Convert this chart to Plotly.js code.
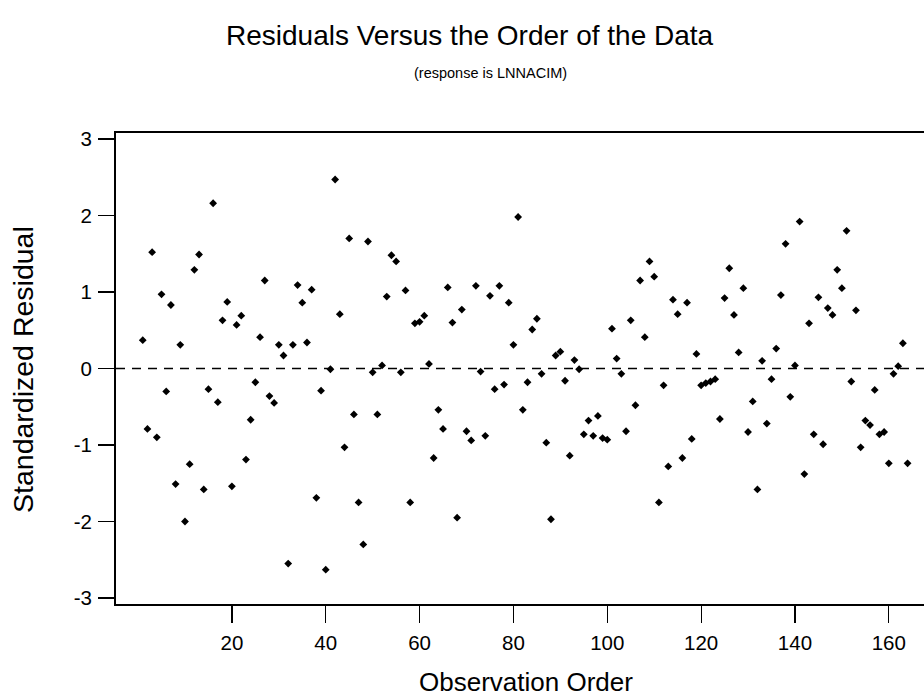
<!DOCTYPE html>
<html>
<head>
<meta charset="utf-8">
<script src="https://cdn.plot.ly/plotly-3.0.1.min.js"></script>
<style>html,body{margin:0;padding:0;background:#fff;}#chart{width:924px;height:698px;}</style>
</head>
<body>
<div id="chart"></div>
<script>
const chartTitle = "Residuals Versus the Order of the Data";
const chartSubtitle = "(response is LNNACIM)";
const xTitle = "Observation Order";
const yTitle = "Standardized Residual";
const xTickVals = [20, 40, 60, 80, 100, 120, 140, 160];
const xTickText = ["20", "40", "60", "80", "100", "120", "140", "160"];
const yTickVals = [-3, -2, -1, 0, 1, 2, 3];
const yTickText = ["-3", "-2", "-1", "0", "1", "2", "3"];
const referenceLine = 0;

const residuals = [
  0.37, -0.79, 1.52, -0.90, 0.97, -0.30, 0.83, -1.51, 0.31, -2.00,
  -1.25, 1.29, 1.49, -1.58, -0.27, 2.16, -0.44, 0.63, 0.87, -1.54,
  0.57, 0.69, -1.19, -0.67, -0.18, 0.41, 1.15, -0.36, -0.45, 0.31,
  0.17, -2.55, 0.31, 1.09, 0.86, 0.34, 1.03, -1.69, -0.29, -2.63,
  -0.01, 2.47, 0.71, -1.03, 1.70, -0.60, -1.75, -2.30, 1.66, -0.05,
  -0.60, 0.04, 0.94, 1.48, 1.40, -0.05, 1.02, -1.75, 0.59, 0.61,
  0.69, 0.06, -1.17, -0.54, -0.79, 1.06, 0.60, -1.95, 0.77, -0.82,
  -0.94, 1.08, -0.04, -0.88, 0.95, -0.27, 1.08, -0.21, 0.86, 0.31,
  1.98, -0.54, -0.18, 0.51, 0.65, -0.07, -0.97, -1.97, 0.17, 0.22,
  -0.16, -1.14, 0.11, -0.01, -0.86, -0.68, -0.88, -0.62, -0.91, -0.93,
  0.52, 0.13, -0.07, -0.82, 0.63, -0.48, 1.15, 0.41, 1.40, 1.20,
  -1.75, -0.22, -1.28, 0.90, 0.71, -1.17, 0.86, -0.92, 0.19, -0.22,
  -0.19, -0.17, -0.14, -0.66, 0.92, 1.31, 0.70, 0.21, 1.05, -0.83,
  -0.43, -1.58, 0.10, -0.72, -0.14, 0.26, 0.96, 1.63, -0.37, 0.04,
  1.92, -1.38, 0.59, -0.86, 0.93, -0.99, 0.79, 0.70, 1.29, 1.05,
  1.80, -0.17, 0.76, -1.03, -0.68, -0.74, -0.28, -0.86, -0.83, -1.24,
  -0.07, 0.03, 0.33, -1.24
];
const observationOrder = residuals.map((_, i) => i + 1);

const FONT = '"Liberation Sans", Arial, Helvetica, sans-serif';

const data = [{
  type: 'scatter',
  mode: 'markers',
  x: observationOrder,
  y: residuals,
  marker: {symbol: 'diamond', size: 6, color: '#000'},
  hoverinfo: 'x+y',
  cliponaxis: false
}];

const layout = {
  width: 924, height: 698,
  margin: {l: 116, r: 0, t: 133, b: 94},
  paper_bgcolor: '#fff', plot_bgcolor: '#fff',
  showlegend: false,
  font: {family: FONT, color: '#000', size: 20},
  xaxis: {
    range: [-4.7, 167.5],
    tickmode: 'array', tickvals: xTickVals, ticktext: xTickText,
    ticks: 'outside', ticklen: 17, tickwidth: 1.2, tickcolor: '#000',
    showline: true, linecolor: '#000', linewidth: 2, mirror: true,
    showgrid: false, zeroline: false,
    tickfont: {size: 20.5, family: FONT},
    ticklabelstandoff: 2
  },
  yaxis: {
    range: [-3.078, 3.078],
    tickmode: 'array', tickvals: yTickVals, ticktext: yTickText,
    ticks: 'outside', ticklen: 16, tickwidth: 1.2, tickcolor: '#000',
    showline: true, linecolor: '#000', linewidth: 2, mirror: false,
    showgrid: false, zeroline: false,
    tickfont: {size: 20.5, family: FONT},
    ticklabelstandoff: 2
  },
  shapes: [{
    type: 'line', xref: 'paper', yref: 'y',
    x0: 0, x1: 1, y0: referenceLine, y1: referenceLine,
    line: {color: '#000', width: 1.6, dash: '9px,7px'}
  }],
  annotations: [
    {text: chartTitle, xref: 'paper', yref: 'paper', x: 0.438, y: 1.208,
     xanchor: 'center', yanchor: 'middle', showarrow: false,
     font: {size: 28, family: FONT}},
    {text: chartSubtitle, xref: 'paper', yref: 'paper', x: 0.463, y: 1.127,
     xanchor: 'center', yanchor: 'middle', showarrow: false,
     font: {size: 14.5, family: FONT}},
    {text: xTitle, xref: 'paper', yref: 'paper', x: 0.5074, y: -0.1665,
     xanchor: 'center', yanchor: 'middle', showarrow: false,
     font: {size: 26, family: FONT}},
    {text: yTitle, xref: 'paper', yref: 'paper', x: -0.115, y: 0.497,
     xanchor: 'center', yanchor: 'middle', showarrow: false, textangle: -90,
     font: {size: 28.5, family: FONT}}
  ]
};

Plotly.newPlot('chart', data, layout, {displayModeBar: false, staticPlot: true});
</script>
</body>
</html>
